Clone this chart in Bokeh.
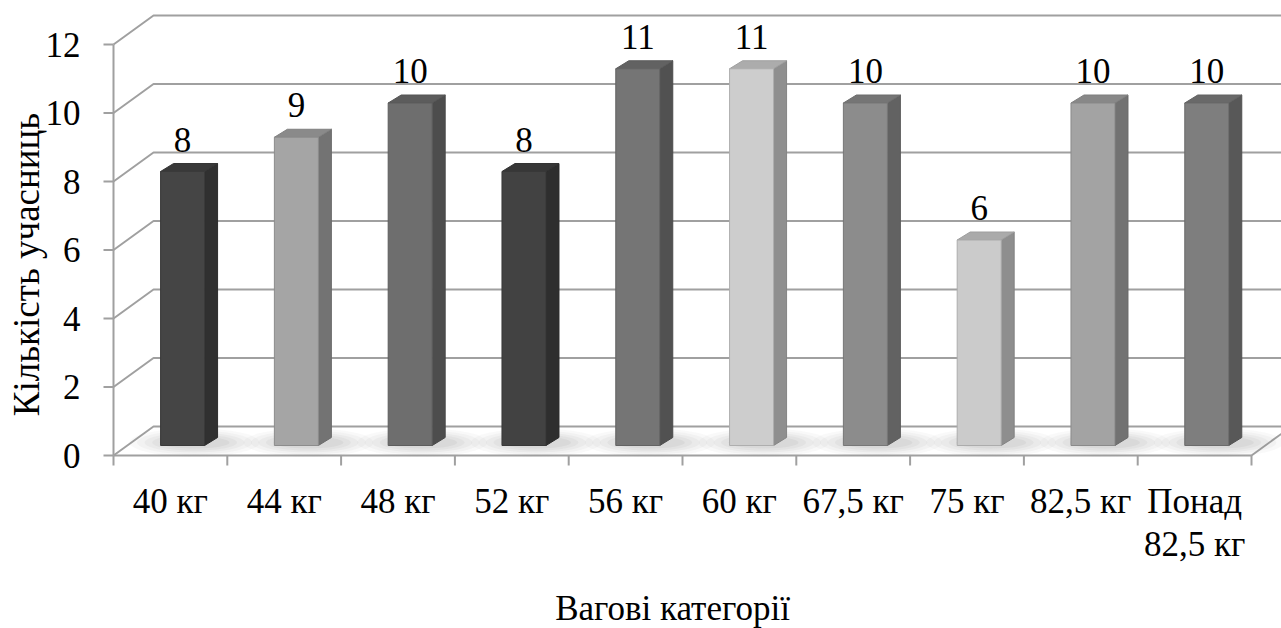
from bokeh.plotting import figure
from bokeh.models import Range1d
from bokeh.core.properties import value
from bokeh.embed import file_html
from bokeh.resources import INLINE

# ---- data ----
categories = ["40 кг", "44 кг", "48 кг", "52 кг", "56 кг", "60 кг",
              "67,5 кг", "75 кг", "82,5 кг", "Понад\n82,5 кг"]
counts = [8, 9, 10, 8, 11, 11, 10, 6, 10, 10]
y_ticks = [0, 2, 4, 6, 8, 10, 12]
y_title = "Кількість учасниць"
x_title = "Вагові категорії"

# front face shade of each column
bar_fill = ["#454545", "#a5a5a5", "#6e6e6e", "#424242", "#757575",
            "#cdcdcd", "#8c8c8c", "#cbcbcb", "#a3a3a3", "#7e7e7e"]

# ---- layout (pixel scale of the pseudo-3D scene) ----
W, H = 1281, 628
X0_PX, Y0_PX = 113, 455          # front corner of the floor
PX_X = 113.8                     # px per category
PX_Y = 34.25                     # px per count unit
DX, DY = 40 / PX_X, 29 / PX_Y    # depth of the box (back wall offset)
BAR_W = 44 / PX_X
BAR_SHIFT = 0.107                # bar front centre relative to category centre
BAR_BASE = 10 / PX_Y             # bars sit a little behind the front edge
SIDE_DX, SIDE_DY = 13 / PX_X, 8 / PX_Y
FONT = value("Liberation Serif")
FS = value("35px")


def px_x(px):
    return (px - X0_PX) / PX_X


def px_y(px):
    return (Y0_PX - px) / PX_Y


def shade(hex_color, f):
    r, g, b = (int(hex_color[i:i + 2], 16) for i in (1, 3, 5))
    return "#%02x%02x%02x" % (int(r * f), int(g * f), int(b * f))


p = figure(width=W, height=H, output_backend="svg", toolbar_location=None,
           x_range=Range1d(px_x(0), px_x(W)), y_range=Range1d(px_y(H), px_y(0)),
           x_axis_location=None, y_axis_location=None, min_border=0)
p.outline_line_color = None
p.xgrid.visible = False
p.ygrid.visible = False
p.background_fill_color = "white"

n = len(categories)
x_end = px_x(W) + 1
grid_col = "#a0a0a0"

# side wall + back wall gridlines
p.multi_line(xs=[[0, DX, x_end] for _ in y_ticks],
             ys=[[t, t + DY, t + DY] for t in y_ticks],
             line_color=grid_col, line_width=2)
# front edge of the floor and its right-hand slope
p.line(x=[0, n, n + DX], y=[0, 0, DY], line_color=grid_col, line_width=2)
# value axis
p.line(x=[0, 0], y=[0, y_ticks[-1]], line_color=grid_col, line_width=2)
tick_len_x = 10 / PX_X
tick_len_y = 10 / PX_Y
p.segment(x0=[-tick_len_x] * len(y_ticks), y0=y_ticks,
          x1=[0] * len(y_ticks), y1=y_ticks, line_color=grid_col, line_width=2)
p.segment(x0=list(range(n + 1)), y0=[0] * (n + 1),
          x1=list(range(n + 1)), y1=[-tick_len_y] * (n + 1),
          line_color=grid_col, line_width=2)

# value axis tick labels
p.text(x=[px_x(80)] * len(y_ticks), y=y_ticks, text=[str(t) for t in y_ticks],
       text_font=FONT, text_font_size=FS, text_color="black",
       text_align="right", text_baseline="middle")

# category labels (multi-line ones split into rows)
lx, ly, lt = [], [], []
for i, lab in enumerate(categories):
    for k, row in enumerate(lab.split("\n")):
        lx.append(i + 0.5)
        ly.append(px_y(501 + 43 * k))
        lt.append(row)
p.text(x=lx, y=ly, text=lt, text_font=FONT, text_font_size=FS,
       text_color="black", text_align="center", text_baseline="middle")

# axis titles
p.text(x=[px_x(672)], y=[px_y(608)], text=[x_title], text_font=FONT,
       text_font_size=FS, text_color="black",
       text_align="center", text_baseline="middle")
p.text(x=[px_x(26)], y=[px_y(264)], text=[y_title], text_font=FONT,
       text_font_size=value("37px"), text_color="black", angle=1.5708,
       text_align="center", text_baseline="middle")

# soft floor shadows under the columns
cx = [i + 0.5 + BAR_SHIFT + 12 / PX_X for i in range(n)]
for wpx, hpx, a in [(130, 28, 0.05), (115, 24, 0.06), (100, 20, 0.07),
                    (85, 16, 0.08), (70, 12, 0.09)]:
    p.ellipse(x=cx, y=[BAR_BASE + 3 / PX_Y] * n, width=wpx / PX_X, height=hpx / PX_Y,
              fill_color="#8a8a8a", fill_alpha=a, line_color=None)

# columns: front face, right side and top
for i, v in enumerate(counts):
    xl = i + 0.5 + BAR_SHIFT - BAR_W / 2
    xr = xl + BAR_W
    yb, yt = BAR_BASE, BAR_BASE + v
    front = bar_fill[i]
    p.patch(x=[xr, xr, xr + SIDE_DX, xr + SIDE_DX],
            y=[yb, yt, yt + SIDE_DY, yb + SIDE_DY],
            fill_color=shade(front, 0.70), line_color=shade(front, 0.65), line_width=1)
    p.patch(x=[xl, xr, xr + SIDE_DX, xl + SIDE_DX],
            y=[yt, yt, yt + SIDE_DY, yt + SIDE_DY],
            fill_color=shade(front, 0.84), line_color=shade(front, 0.78), line_width=1)
    p.quad(left=[xl], right=[xr], bottom=[yb], top=[yt],
           fill_color=front, line_color=shade(front, 0.85), line_width=1)

# value labels above the columns
p.text(x=[i + 0.5 + BAR_SHIFT for i in range(n)],
       y=[BAR_BASE + v + SIDE_DY for v in counts],
       text=[str(v) for v in counts], y_offset=-24,
       text_font=FONT, text_font_size=FS, text_color="black",
       text_align="center", text_baseline="middle")

open("out.html", "w").write(file_html(p, INLINE))
